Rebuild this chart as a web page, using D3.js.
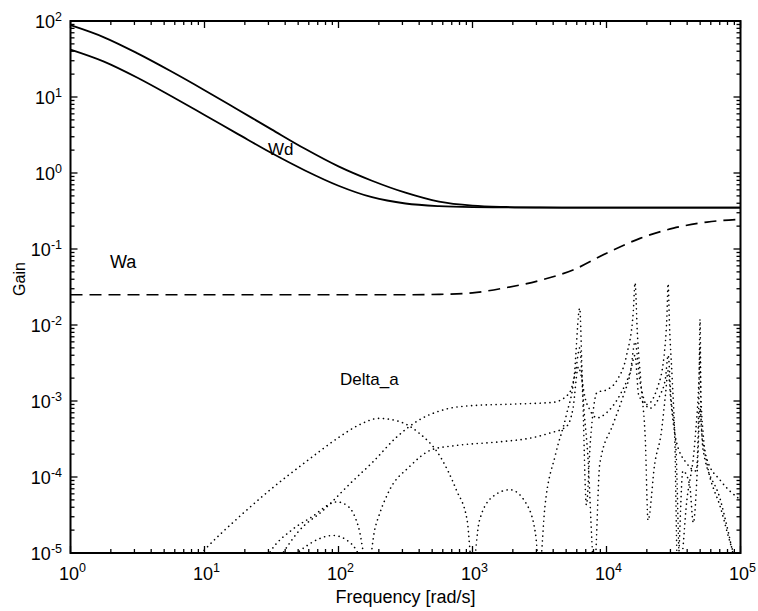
<!DOCTYPE html>
<html><head><meta charset="utf-8">
<script src="https://cdn.jsdelivr.net/npm/d3@7"></script>
<style>
html,body{margin:0;padding:0;background:#fff;}
text{font-family:"Liberation Sans",Arial,Helvetica,sans-serif;fill:#000;}
</style></head>
<body><svg id="chart" width="758" height="611"></svg>
<script>
// ---------- data ----------
const freq = [1,1.778,3.162,5.623,10,17.78,31.62,56.23,100,177.8,316.2,562.3,1000,1778,3162,5623,10000,17783,31623,56234,100000];
const wdUpper = [88,61,37.5,21.8,12.3,6.8,3.75,2.08,1.22,0.79,0.55,0.42,0.372,0.357,0.352,0.351,0.35,0.35,0.35,0.35,0.35];
const wdLower = [42,29.2,17.9,10.3,5.8,3.25,1.83,1.08,0.68,0.48,0.397,0.366,0.355,0.352,0.351,0.35,0.35,0.35,0.35,0.35,0.35];
const waGain  = [0.025,0.025,0.025,0.025,0.025,0.025,0.025,0.025,0.025,0.025,0.025,0.0253,0.0265,0.031,0.0385,0.053,0.088,0.138,0.188,0.226,0.246];

const deltaAFreq = [7.9,10,17.8,31.6,57.5,100,141,200,282,398,575,759,912,1000,1122,1413,1905,2512,2951,3162,3467,4169,5012,5754,6310,6607,7244,8128,8913,11220,13183,15136,16330,17783,20893,25119,27542,28840,30200,33113,35318,39811,45709,48978,49888,50700,56234,70795,89125,100000];
const deltaAGain = [7e-6,1.1e-5,2.9e-5,7e-5,1.6e-4,3.3e-4,4.8e-4,5.9e-4,5.4e-4,3.8e-4,1.85e-4,6.7e-5,2.7e-5,6e-6,2.6e-5,5.5e-5,6.8e-5,4.5e-5,1.8e-5,6e-6,4e-5,2e-4,6.5e-4,2.2e-3,1.66e-2,1.8e-3,2e-4,6e-6,1.5e-4,5e-4,1.1e-3,2.5e-3,6e-3,1.8e-3,8e-4,1.2e-3,2e-3,4e-3,1.2e-3,2e-4,6e-6,5e-5,3e-4,2e-3,5e-3,5e-4,1.5e-4,4e-5,1e-5,7e-6];

const deltaBFreq = [35.5,50,77.6,123,182,269,398,631,1000,1995,3981,5248,5888,6310,6607,7079,7586,8511,10000,12023,14125,15849,16330,16982,18197,19498,20417,22909,25704,27542,28840,30200,33113,39811,46774,48978,49888,50700,52481,56234,70795,100000];
const deltaBGain = [8e-6,1.9e-5,3.7e-5,8.3e-5,1.6e-4,3.3e-4,5.6e-4,7.8e-4,8.7e-4,9.1e-4,9.6e-4,1.25e-3,2.5e-3,5e-3,1.5e-3,4.3e-5,3e-4,1.3e-3,1.4e-3,1.9e-3,4e-3,1.5e-2,3.6e-2,8e-3,1.5e-3,3e-4,2.7e-5,1.5e-4,4e-4,1.2e-3,2.5e-3,1e-3,3e-4,1.5e-4,1.2e-4,1.2e-3,1.19e-2,1.2e-3,4e-4,1.7e-4,9e-5,5e-5];

const deltaCFreq = [28.2,31.6,44.7,61.7,97.7,120,141,166,186,204,240,339,501,759,1585,2818,3802,5012,5623,6166,6457,6918,7413,8511,10000,12589,15136,16330,17378,19953,23988,26915,28184,28840,29512,30903,32359,33884,37154,41687,44463,47863,49888,52481,70795,93325];
const deltaCGain = [8e-6,1.1e-5,2e-5,2.9e-5,4.7e-5,4e-5,2.2e-5,6e-6,2e-5,3.4e-5,6.7e-5,1.37e-4,2.3e-4,2.6e-4,2.9e-4,3.3e-4,3.8e-4,4.6e-4,8e-4,2.8e-3,2.2e-3,1.1e-3,8e-4,6e-4,7e-4,1.2e-3,2.5e-3,4e-3,1.2e-3,9e-4,1.5e-3,4e-3,1.2e-2,3.5e-2,1e-2,2e-3,3e-4,6e-6,1.2e-4,8e-5,2.5e-5,1.5e-4,8e-4,2.3e-4,5e-5,6e-6];

const deltaDFreq = [39.8,56.2,91.2,126,162,200];
const deltaDGain = [7e-6,1.2e-5,1.7e-5,1.3e-5,6e-6,3e-6];

const xTickExps = [0,1,2,3,4,5];
const yTickExps = [-5,-4,-3,-2,-1,0,1,2];
const labels = {x:"Frequency [rad/s]", y:"Gain", wd:"Wd", wa:"Wa", delta:"Delta_a"};

// ---------- drawing ----------
const svg = d3.select("#chart");
const L = 70.5, R = 740.5, T = 21, B = 553;
const x = d3.scaleLog().domain([1,1e5]).range([L,R]);
const y = d3.scaleLog().domain([1e-5,1e2]).range([B,T]);

svg.append("defs").append("clipPath").attr("id","clip")
  .append("rect").attr("x",L).attr("y",T).attr("width",R-L).attr("height",B-T);

const plot = svg.append("g").attr("clip-path","url(#clip)");
const line = (fs, gs) => d3.line().curve(d3.curveMonotoneX)
  .x((d,i)=>x(fs[i])).y((d,i)=>y(gs[i]))(gs);

// dotted Delta_a curves
[[deltaAFreq,deltaAGain],[deltaBFreq,deltaBGain],[deltaCFreq,deltaCGain],[deltaDFreq,deltaDGain]].forEach(([f,g])=>{
  plot.append("path").attr("d",line(f,g)).attr("fill","none").attr("stroke","#000")
    .attr("stroke-width",1.6).attr("stroke-linecap","round").attr("stroke-dasharray","0.1,4.8");
});
// Wa dashed
plot.append("path").attr("d",line(freq,waGain)).attr("fill","none").attr("stroke","#000")
  .attr("stroke-width",1.7).attr("stroke-dasharray","12,7");
// Wd solid
[wdUpper,wdLower].forEach(g=>{
  plot.append("path").attr("d",line(freq,g)).attr("fill","none").attr("stroke","#000").attr("stroke-width",1.8);
});

// axes box and ticks
const ax = svg.append("g").attr("stroke","#000");
ax.append("rect").attr("x",L).attr("y",T).attr("width",R-L).attr("height",B-T)
  .attr("fill","none").attr("stroke-width",2);
const majLen = 7, minLen = 4;
for (let e=0;e<=5;e++){
  for (let m=1;m<=9;m++){
    const v = m*Math.pow(10,e); if (v>1e5) break;
    const xx = x(v), len = m===1?majLen:minLen;
    ax.append("line").attr("x1",xx).attr("x2",xx).attr("y1",B).attr("y2",B-len).attr("stroke-width",1.3);
    ax.append("line").attr("x1",xx).attr("x2",xx).attr("y1",T).attr("y2",T+len).attr("stroke-width",1.3);
  }
}
for (let e=-5;e<=2;e++){
  for (let m=1;m<=9;m++){
    const v = m*Math.pow(10,e); if (v>100) break;
    const yy = y(v), len = m===1?majLen:minLen;
    ax.append("line").attr("y1",yy).attr("y2",yy).attr("x1",L).attr("x2",L+len).attr("stroke-width",1.3);
    ax.append("line").attr("y1",yy).attr("y2",yy).attr("x1",R).attr("x2",R-len).attr("stroke-width",1.3);
  }
}

// tick labels
xTickExps.forEach(e=>{
  const t = svg.append("text").attr("x",x(Math.pow(10,e))+2).attr("y",580)
    .attr("text-anchor","middle").attr("font-size",18);
  t.append("tspan").text("10");
  t.append("tspan").attr("dy",-8).attr("font-size",12.5).text(String(e));
});
yTickExps.forEach(e=>{
  const t = svg.append("text").attr("x",62).attr("y",y(Math.pow(10,e))+7)
    .attr("text-anchor","end").attr("font-size",18);
  t.append("tspan").text("10");
  t.append("tspan").attr("dy",-7).attr("font-size",12.5).text(e<0?"-"+(-e):String(e));
});

// axis titles
svg.append("text").attr("x",(L+R)/2).attr("y",603).attr("text-anchor","middle")
  .attr("font-size",18).text(labels.x);
svg.append("text").attr("transform","translate(25,"+((T+B)/2-8)+") rotate(-90)")
  .attr("text-anchor","middle").attr("font-size",16).text(labels.y);

// curve annotations
svg.append("text").attr("x",268).attr("y",155).attr("font-size",17).text(labels.wd);
svg.append("text").attr("x",110).attr("y",268).attr("font-size",18).text(labels.wa);
svg.append("text").attr("x",340).attr("y",385).attr("font-size",17).text(labels.delta);
</script></body></html>
